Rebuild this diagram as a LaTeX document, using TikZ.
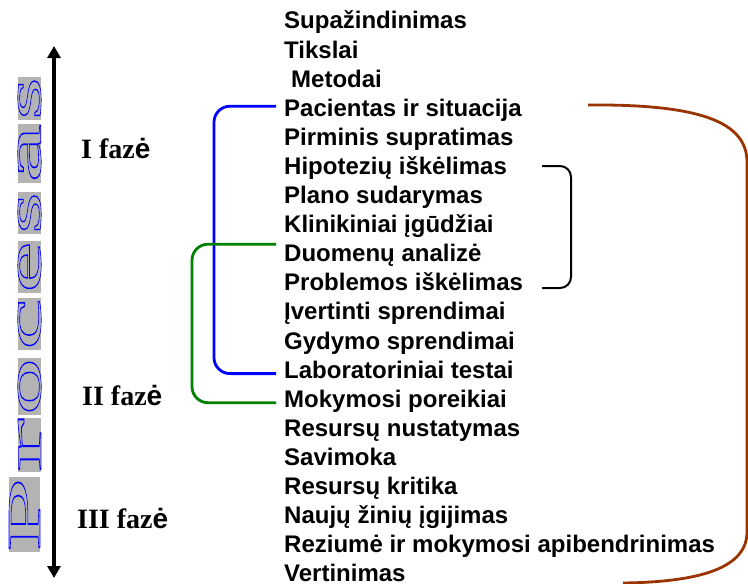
\documentclass[tikz,border=0pt]{standalone}
\usepackage{fontspec}
\setmainfont{Liberation Sans}
\newfontfamily\timesfont{Liberation Serif}
\newfontfamily\arialfont{Liberation Sans}
\usetikzlibrary{arrows.meta}
\definecolor{linkblue}{RGB}{0,0,255}
\definecolor{linkgreen}{RGB}{0,128,0}
\definecolor{linkbrown}{RGB}{153,51,0}
\definecolor{boxgray}{RGB}{179,179,179}
% outlined (stroked) glyphs
\newcommand{\hollow}[1]{{\special{pdf:literal direct 1 Tr 0.6 w}#1\special{pdf:literal direct 0 Tr}}}
\newcommand{\bigletter}[3]{\resizebox{#2pt}{#3pt}{\fontsize{48}{48}\selectfont\timesfont\hollow{#1}}}
\begin{document}
\begin{tikzpicture}[x=1pt,y=-1pt,
  item/.style={anchor=west, inner sep=0pt, text height=17pt, text depth=0pt,
    font=\fontsize{24}{24}\selectfont\bfseries},
  phase/.style={anchor=base west, inner sep=0pt,
    font=\fontsize{28}{28}\selectfont\timesfont\bfseries},
  letterbox/.style={rotate=90, fill=boxgray, inner sep=0pt, text=linkblue},
  link/.style={line width=2.8pt, rounded corners=16pt},
]
\useasboundingbox (0,0) rectangle (748,584);

% time axis
\coordinate (arrT) at (54,46);
\coordinate (arrB) at (54,578);
\draw[line width=4.2pt, {Triangle[length=12pt,width=13pt]}-{Triangle[length=12pt,width=13pt]}] (arrT) -- (arrB);

% vertical word "Procesas"
\node[letterbox] (lP)  at (24.5,514.5) {\bigletter{P}{75}{31}};
\node[letterbox] (lr)  at (29.5,445)   {\bigletter{r}{54}{23}};
\node[letterbox] (lo)  at (29.5,386.5) {\bigletter{o}{57}{23}};
\node[letterbox] (lc)  at (29.5,324)   {\bigletter{c}{52}{23}};
\node[letterbox] (le)  at (29.5,267)   {\bigletter{e}{52}{23}};
\node[letterbox] (ls1) at (29.5,213)   {\bigletter{s}{42}{23}};
\node[letterbox] (la)  at (29.5,153.5) {\bigletter{a}{59}{23}};
\node[letterbox] (ls2) at (29.5,98.5)  {\bigletter{s}{43}{23}};

% phases
\node[phase] (ph1) at (81,158) {I faz{\arialfont\bfseries ė}};
\node[phase] (ph2) at (82,405) {II faz{\arialfont\bfseries ė}};
\node[phase] (ph3) at (77,528) {III faz{\arialfont\bfseries ė}};

% steps
\node[item] (s0)  at (284,20.4)  {Supažindinimas};
\node[item] (s1)  at (284,49.5)  {Tikslai};
\node[item] (s2)  at (291,78.6)  {Metodai};
\node[item] (s3)  at (284,107.7) {Pacientas ir situacija};
\node[item] (s4)  at (284,136.8) {Pirminis supratimas};
\node[item] (s5)  at (284,165.9) {Hipotezių iškėlimas};
\node[item] (s6)  at (284,195)   {Plano sudarymas};
\node[item] (s7)  at (284,224.1) {Klinikiniai įgūdžiai};
\node[item] (s8)  at (284,253.2) {Duomenų analizė};
\node[item] (s9)  at (284,282.3) {Problemos iškėlimas};
\node[item] (s10) at (284,311.4) {Įvertinti sprendimai};
\node[item] (s11) at (284,340.5) {Gydymo sprendimai};
\node[item] (s12) at (284,369.6) {Laboratoriniai testai};
\node[item] (s13) at (284,398.7) {Mokymosi poreikiai};
\node[item] (s14) at (284,427.8) {Resursų nustatymas};
\node[item] (s15) at (284,456.9) {Savimoka};
\node[item] (s16) at (284,486)   {Resursų kritika};
\node[item] (s17) at (284,515.1) {Naujų žinių įgijimas};
\node[item] (s18) at (284,544.2) {Reziumė ir mokymosi apibendrinimas};
\node[item] (s19) at (284,572.8) {Vertinimas};

% blue link
\draw[link, linkblue] ([xshift=-8pt,yshift=1.5pt]s3.west) -- ++(-62,0) |- ([xshift=-8pt,yshift=-4pt]s12.west);
% green link
\draw[link, linkgreen] ([xshift=-8pt,yshift=9pt]s8.west) -- ++(-84,0) |- ([xshift=-8pt,yshift=-4pt]s13.west);

% black bracket
\coordinate (brT) at (542,166);
\coordinate (brB) at (542,288);
\draw[line width=2pt, rounded corners=11pt] (brT) -- ++(29,0) |- (brB);

% brown arc
\coordinate (arcS) at (588,105);
\coordinate (arcE) at (623,583);
\draw[line width=2.8pt, linkbrown] (arcS) .. controls (700,104) and (747,122) .. (747,162)
  -- (747,532) .. controls (747,568) and (700,582) .. (arcE);
\end{tikzpicture}
\end{document}
